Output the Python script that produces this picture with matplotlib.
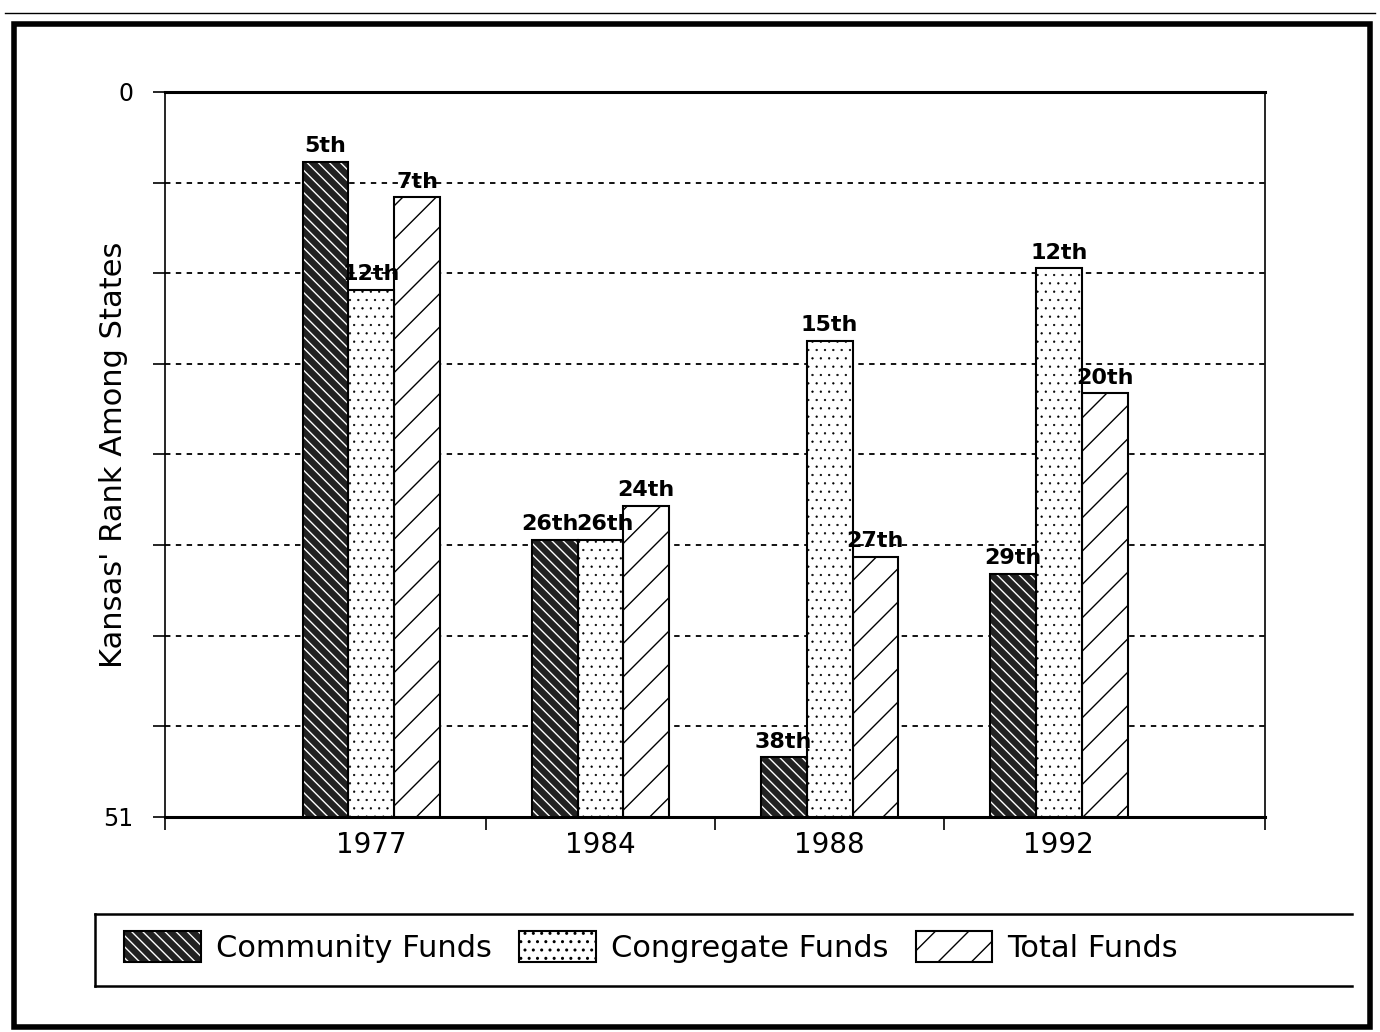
import numpy as np
import matplotlib
matplotlib.use("Agg")
import matplotlib.pyplot as plt
from matplotlib.patches import Patch, Rectangle
from matplotlib.lines import Line2D

# Data (bar tops in rank units, labels as printed)
years = ["1977", "1984", "1988", "1992"]
series = ["Community Funds", "Congregate Funds", "Total Funds"]
community = [4.9, 31.5, 46.8, 33.9]
congregate = [13.9, 31.5, 17.5, 12.4]
total = [7.4, 29.1, 32.7, 21.2]
community_lbl = ["5th", "26th", "38th", "29th"]
congregate_lbl = ["12th", "26th", "15th", "12th"]
total_lbl = ["7th", "24th", "27th", "20th"]
n_states = 51

plt.rcParams['font.family'] = ['DejaVu Sans']
plt.rcParams['hatch.linewidth'] = 1.0

fig = plt.figure(figsize=(13.8, 10.32), dpi=100)
ax = fig.add_axes([165/1380, 1 - 817/1032, 1100/1380, 725/1032])

x = np.arange(len(years))
w = 0.2

# community: dark with white stripes, then black outline on top
ax.bar(x - w, [n_states - v for v in community], w, bottom=community,
       facecolor='#222222', edgecolor='white', hatch='\\' * 3, lw=0, zorder=3)
ax.bar(x - w, [n_states - v for v in community], w, bottom=community,
       fill=False, edgecolor='black', lw=1.5, zorder=4)
ax.bar(x + w, [n_states - v for v in total], w, bottom=total,
       facecolor='white', edgecolor='black', hatch='/', lw=1.5, zorder=3)
h_tot = Patch(facecolor='white', edgecolor='black', hatch='/', lw=1.5)
h_comm = (Patch(facecolor='#222222', edgecolor='white', hatch='\\' * 3, lw=0),
          Patch(fill=False, edgecolor='black', lw=1.5))

# finer dots for the congregate bars
plt.rcParams['hatch.linewidth'] = 0.4
ax.bar(x, [n_states - v for v in congregate], w, bottom=congregate,
       facecolor='white', edgecolor='black', hatch='..', lw=1.5, zorder=3)
h_cong = Patch(facecolor='white', edgecolor='black', hatch='..', lw=1.5)
plt.rcParams['hatch.linewidth'] = 1.0

for off, vals, lbls in [(-w, community, community_lbl),
                        (0, congregate, congregate_lbl),
                        (w, total, total_lbl)]:
    for xi, v, l in zip(x, vals, lbls):
        dx = -3 if (off < 0 and l == "26th") else (3 if (off == 0 and l == "26th") else 0)
        ax.annotate(l, (xi + off, v), xytext=(dx, 4), textcoords='offset points',
                    ha='center', va='bottom', fontsize=16, fontweight='bold',
                    zorder=5)

ax.set_ylim(n_states, 0)
ax.set_xlim(-0.9, 3.9)

yt = np.linspace(0, n_states, 9)
ax.set_yticks(yt)
ax.set_yticklabels(["0"] + [""] * 7 + ["51"], fontsize=17)
ax.tick_params(axis='y', length=9, width=1.2, pad=14)
ax.yaxis.grid(True, color='black', linestyle=(0, (3, 3)), lw=1.3)
ax.set_axisbelow(True)

ax.set_xticks(x)
ax.set_xticklabels(years, fontsize=20)
ax.tick_params(axis='x', which='major', length=0, pad=10)
ax.set_xticks([-0.9, 0.5, 1.5, 2.5, 3.9], minor=True)
ax.tick_params(axis='x', which='minor', length=9, width=1.2)

for s in ['left', 'right']:
    ax.spines[s].set_linewidth(1.2)
for s in ['top', 'bottom']:
    ax.spines[s].set_linewidth(2.2)

fig.text(114/1380, 1 - 455/1032, "Kansas' Rank Among States", rotation=90,
         ha='center', va='center', fontsize=22)

# legend
fig.legend([h_comm, h_cong, h_tot], series, ncol=3, frameon=False,
           loc='center left', bbox_to_anchor=(112/1380, 1 - 947/1032),
           fontsize=22, handlelength=2.5, handleheight=1.2,
           handletextpad=0.5, columnspacing=0.9, borderaxespad=0)

lkw = dict(color='black', lw=1.8, transform=fig.transFigure)
fig.add_artist(Line2D([95/1380, 1352/1380], [1 - 914/1032, 1 - 914/1032], **lkw))
fig.add_artist(Line2D([95/1380, 1352/1380], [1 - 986/1032, 1 - 986/1032], **lkw))
fig.add_artist(Line2D([95/1380, 95/1380], [1 - 914/1032, 1 - 986/1032], **lkw))

# outer frame
fig.add_artist(Rectangle((14/1380, 1 - 1027/1032), 1356/1380, 1003/1032,
                         fill=False, edgecolor='black', lw=4,
                         transform=fig.transFigure))
fig.add_artist(Line2D([5/1380, 1375/1380], [1 - 13/1032, 1 - 13/1032],
                      color='black', lw=1, transform=fig.transFigure))

fig.savefig("out.png", dpi=100)
